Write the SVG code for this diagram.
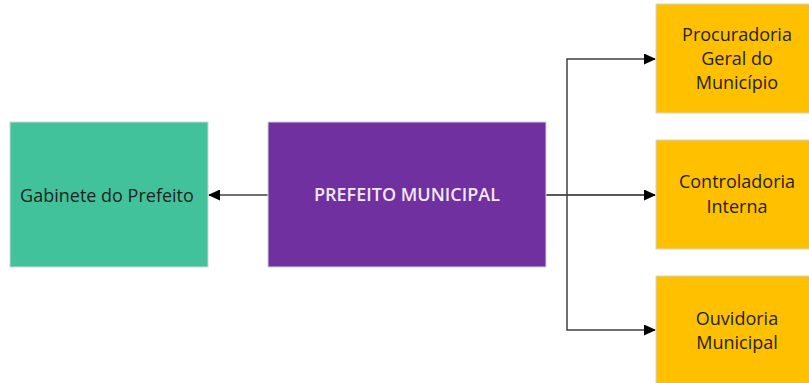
<svg xmlns="http://www.w3.org/2000/svg" width="809" height="383" viewBox="0 0 809 383">
<style>
.box{stroke:#d4d4d4;stroke-width:1}
.t{font-family:"Open Sans","Noto Sans","Liberation Sans",sans-serif;font-size:18px;fill:#1f1f1f;text-anchor:middle}
.w{fill:#f0e8f6;font-weight:600}
.c{fill:none;stroke:#404040;stroke-width:1.5}
</style>
<defs>
<marker id="ah" markerWidth="12" markerHeight="11" refX="11" refY="5.5" orient="auto" markerUnits="userSpaceOnUse">
<path d="M0,0 L12,5.5 L0,11 Z" fill="#000"/>
</marker>
</defs>
<rect width="809" height="383" fill="#fff"/>
<g id="connectors">
<path class="c" d="M268,195 H209" marker-end="url(#ah)"/>
<path class="c" d="M546,195 H655" marker-end="url(#ah)" style="stroke:#202020"/>
<path class="c" d="M567,195 V59 H655" marker-end="url(#ah)"/>
<path class="c" d="M567,195 V330 H655" marker-end="url(#ah)"/>
</g>
<g id="gabinete">
<rect class="box" x="10" y="122" width="198" height="145" fill="#41C29A"/>
<text class="t" x="107" y="202">Gabinete do Prefeito</text>
</g>
<g id="prefeito">
<rect class="box" x="268" y="122" width="278" height="145" fill="#7030A0"/>
<text class="t w" x="407" y="201">PREFEITO MUNICIPAL</text>
</g>
<g id="procuradoria">
<rect class="box" x="656" y="4" width="160" height="109" fill="#FFC000"/>
<text class="t" x="737" y="41">Procuradoria</text>
<text class="t" x="737" y="65">Geral do</text>
<text class="t" x="737" y="89">Município</text>
</g>
<g id="controladoria">
<rect class="box" x="656" y="140" width="160" height="109" fill="#FFC000"/>
<text class="t" x="737" y="188">Controladoria</text>
<text class="t" x="737" y="213">Interna</text>
</g>
<g id="ouvidoria">
<rect class="box" x="656" y="276" width="160" height="120" fill="#FFC000"/>
<text class="t" x="737" y="325">Ouvidoria</text>
<text class="t" x="737" y="349">Municipal</text>
</g>
</svg>
